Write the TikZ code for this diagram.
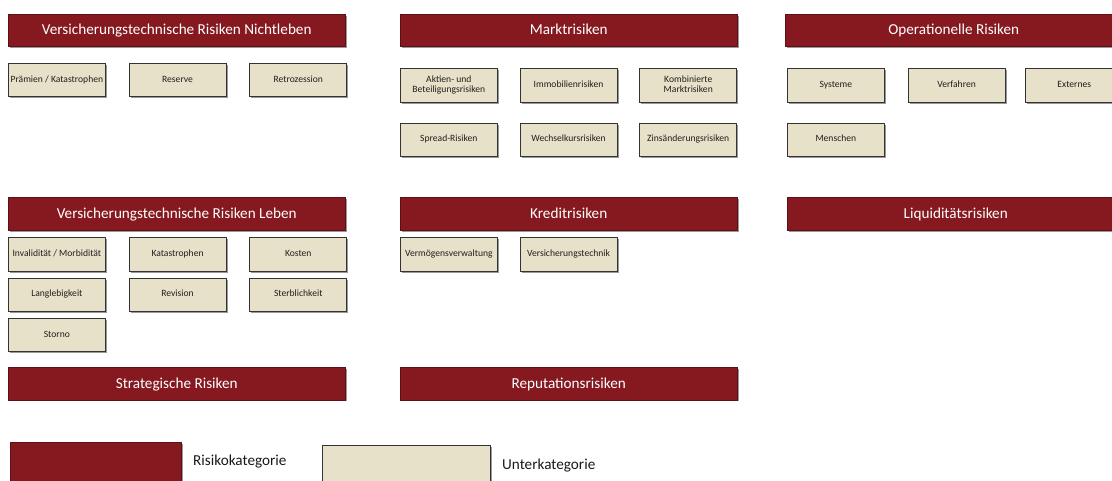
\documentclass[tikz,border=0pt]{standalone}
\usepackage{fontspec}
\setmainfont{Carlito}
\usetikzlibrary{positioning, shadows}
\definecolor{riskred}{RGB}{133, 25, 31}
\definecolor{subbeige}{RGB}{231, 225, 202}
\definecolor{subtext}{RGB}{35, 30, 28}

\begin{document}
\begin{tikzpicture}[
    x=1pt, y=-1pt,
    shade/.style={drop shadow={shadow xshift=1.6pt, shadow yshift=-1.6pt, opacity=0.4, fill=black}},
    catbox/.style={rectangle, shade, fill=riskred, draw=riskred!70!black, line width=0.5pt, minimum width=337pt, minimum height=32.5pt, inner sep=0pt, text=white, font=\fontsize{15.2}{17}\selectfont, text height=1em, text depth=0.1em, anchor=north west},
    subbox/.style={rectangle, shade, fill=subbeige, draw=black!80, line width=0.7pt, minimum width=97pt, minimum height=33.5pt, inner sep=1pt, align=center, text=subtext, font=\fontsize{9.6}{10.5}\selectfont, execute at begin node=\strut, anchor=north west},
    legtext/.style={anchor=west, inner sep=0pt, text=black!90, font=\fontsize{15.2}{17}\selectfont}
]
    \useasboundingbox (0,0) rectangle (1112,481);

    % Risikokategorien
    \node[catbox] (nichtleben) at (8,14) {Versicherungstechnische Risiken Nichtleben};
    \node[catbox] (markt) at (400,14) {Marktrisiken};
    \node[catbox] (operationell) at (785,14) {Operationelle Risiken};
    \node[catbox] (leben) at (8,197.5) {Versicherungstechnische Risiken Leben};
    \node[catbox] (kredit) at (400,197.5) {Kreditrisiken};
    \node[catbox] (liquiditaet) at (787,197.5) {Liquiditätsrisiken};
    \node[catbox] (strategie) at (8,367) {Strategische Risiken};
    \node[catbox] (reputation) at (400,367) {Reputationsrisiken};

    % Nichtleben
    \node[subbox, below=16pt of nichtleben.south west, anchor=north west] (praemien) {Prämien / Katastrophen};
    \node[subbox, right=23pt of praemien] (reserve) {Reserve};
    \node[subbox, right=23pt of reserve] (retro) {Retrozession};

    % Markt
    \node[subbox, below=21.5pt of markt.south west, anchor=north west] (aktien) {Aktien- und\\\strut Beteiligungsrisiken};
    \node[subbox, right=22pt of aktien] (immo) {Immobilienrisiken};
    \node[subbox, right=22pt of immo] (kombi) {Kombinierte\\\strut Marktrisiken};
    \node[subbox, below=20pt of aktien] (spread) {Spread-Risiken};
    \node[subbox, below=20pt of immo] (wechsel) {Wechselkursrisiken};
    \node[subbox, below=20pt of kombi] (zins) {Zinsänderungsrisiken};

    % Operationell
    \node[subbox, below=21.5pt of liquiditaet.north west |- operationell.south, anchor=north west] (systeme) {Systeme};
    \node[subbox, right=23pt of systeme] (verfahren) {Verfahren};
    \node[subbox, right=20pt of verfahren] (externes) {Externes};
    \node[subbox, below=20pt of systeme] (menschen) {Menschen};

    % Leben
    \node[subbox, below=7pt of leben.south west, anchor=north west] (invaliditaet) {Invalidität / Morbidität};
    \node[subbox, right=23pt of invaliditaet] (katastrophen) {Katastrophen};
    \node[subbox, right=23pt of katastrophen] (kosten) {Kosten};
    \node[subbox, below=6pt of invaliditaet] (langleb) {Langlebigkeit};
    \node[subbox, below=6pt of katastrophen] (revision) {Revision};
    \node[subbox, below=6pt of kosten] (sterbl) {Sterblichkeit};
    \node[subbox, below=6pt of langleb] (storno) {Storno};

    % Kredit
    \node[subbox, below=7pt of kredit.south west, anchor=north west] (vermoegen) {Vermögensverwaltung};
    \node[subbox, right=22pt of vermoegen] (vtechnik) {Versicherungstechnik};

    % Legende
    \node[catbox, minimum width=171pt, minimum height=44pt] (legkat) at (10,442) {};
    \node[legtext] (legkattext) at (193,462) {Risikokategorie};
    \node[subbox, minimum width=168pt, minimum height=40pt] (legsub) at (322,445) {};
    \node[legtext] (legsubtext) at (502,466) {Unterkategorie};
\end{tikzpicture}
\end{document}
